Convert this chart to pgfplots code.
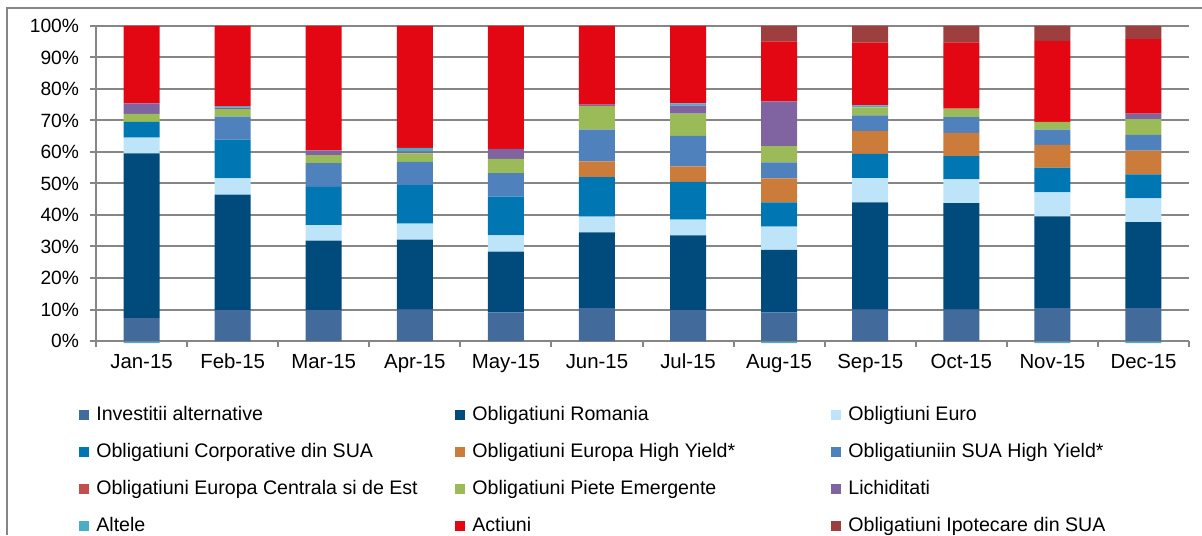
\documentclass[border=0pt]{standalone}
\usepackage{pgfplots}
\usepackage{pgfplotstable}
\pgfplotsset{compat=1.18}
\usepackage{fontspec}
\setmainfont{Liberation Sans}
\definecolor{cInv}{HTML}{426A9B}
\definecolor{cRom}{HTML}{004A7C}
\definecolor{cEur}{HTML}{BDE4F8}
\definecolor{cCorp}{HTML}{0077B3}
\definecolor{cEHY}{HTML}{CB7B3A}
\definecolor{cUHY}{HTML}{4F81BD}
\definecolor{cECE}{HTML}{C0504D}
\definecolor{cPE}{HTML}{9BBB59}
\definecolor{cLich}{HTML}{8064A2}
\definecolor{cAlt}{HTML}{4BACC6}
\definecolor{cAct}{HTML}{E30613}
\definecolor{cIpo}{HTML}{9E3F3F}
\definecolor{cGrid}{HTML}{868686}

\pgfplotstableread{
x  Inv  Rom  Eur  Corp EHY UHY  ECE PE  Lich Alt Act  Ipo
0  7.3  52.3 5.0  5.0  0   0    0   2.5 3.3  0   24.6 0
1  9.8  36.7 5.1  12.3 0   7.3  0   2.4 0.5  0.5 25.4 0
2  9.8  22.1 4.9  12.1 0   7.6  0   2.5 1.5  0   39.5 0
3  10.0 22.2 5.1  12.2 0   7.4  0   2.7 0.6  1.1 38.7 0
4  9.1  19.3 5.1  12.3 0   7.5  0   4.5 3.2  0   39.0 0
5  10.4 24.1 5.0  12.5 5.0 10.1 0   7.5 0.4  0   25.0 0
6  9.8  23.7 5.0  12.0 4.9 9.7  0   7.1 2.5  0.7 24.6 0
7  9.1  19.8 7.4  7.7  7.6 5.1  0   5.2 14.2 0   19.0 4.9
8  10.0 34.0 7.7  7.7  7.3 4.9  0   2.6 0    0.6 19.9 5.3
9  10.0 33.8 7.5  7.4  7.4 5.0  0   2.7 0    0   21.0 5.2
10 10.4 29.2 7.6  7.8  7.3 4.8  0   2.5 0    0   25.7 4.7
11 10.4 27.3 7.6  7.6  7.5 5.0  0   5.0 1.8  0   23.6 4.2
}\data

\pgfplotstableread{
x  AltNeg
0  -0.7
7  -0.7
10 -0.7
11 -0.7
}\neg

\newcommand{\lt}[1]{\makebox[179.5pt][l]{#1}}

\begin{document}
\begin{tikzpicture}
\useasboundingbox (0,0) rectangle (601pt,267.5pt);
\draw[cGrid, line width=1pt] (3.5pt,0) -- (3.5pt,263.5pt) -- (601pt,263.5pt);

% negative values (Altele) drawn below zero
\begin{axis}[
  at={(48pt,97pt)}, anchor=south west,
  scale only axis, width=546.5pt, height=157.5pt,
  xmin=-0.5, xmax=11.5, ymin=0, ymax=100,
  hide axis, clip=false,
  ybar, bar width=18pt,
]
\addplot[fill=cAlt, draw=none] table[x=x, y=AltNeg] {\neg};
\end{axis}

\begin{axis}[
  at={(48pt,97pt)}, anchor=south west,
  scale only axis, width=546.5pt, height=157.5pt,
  xmin=-0.5, xmax=11.5, ymin=0, ymax=100,
  ybar stacked, bar width=18pt,
  axis x line*=bottom, axis y line*=left,
  axis line style={cGrid, line width=1pt, -},
  tick style={cGrid, line width=1pt},
  tick align=outside,
  major tick length=3pt,
  xtick={-0.5,0.5,...,11.5}, xticklabels={},
  extra x ticks={0,1,...,11},
  extra x tick labels={Jan-15,Feb-15,Mar-15,Apr-15,May-15,Jun-15,Jul-15,Aug-15,Sep-15,Oct-15,Nov-15,Dec-15},
  extra x tick style={major tick length=0pt,
    xticklabel style={font=\fontsize{10.2pt}{12pt}\selectfont, text=black, yshift=-3pt}},
  ytick={0,10,...,100},
  yticklabels={0\%,10\%,20\%,30\%,40\%,50\%,60\%,70\%,80\%,90\%,100\%},
  ymajorgrids,
  grid style={cGrid, line width=1pt},
  /pgf/number format/assume math mode=true,
  tick label style={font=\fontsize{9.6pt}{11pt}\selectfont, text=black},
  yticklabel style={xshift=-2pt},
  legend columns=3,
  legend image code/.code={\fill[#1] (0pt,-2.5pt) rectangle (5pt,2.5pt);},
  legend style={
    draw=none, fill=none, inner sep=0pt,
    at={(rel axis cs:-0.0156,-0.412)}, anchor=west,
    font=\fontsize{9.8pt}{11pt}\selectfont,
    row sep=9.5pt,
    nodes={inner sep=0pt, text height=7pt, text depth=2pt},
    /tikz/every odd column/.append style={column sep=3.5pt},
  },
]
\addplot[fill=cInv,  draw=none] table[x=x, y=Inv]  {\data};
\addplot[fill=cRom,  draw=none] table[x=x, y=Rom]  {\data};
\addplot[fill=cEur,  draw=none] table[x=x, y=Eur]  {\data};
\addplot[fill=cCorp, draw=none] table[x=x, y=Corp] {\data};
\addplot[fill=cEHY,  draw=none] table[x=x, y=EHY]  {\data};
\addplot[fill=cUHY,  draw=none] table[x=x, y=UHY]  {\data};
\addplot[fill=cECE,  draw=none] table[x=x, y=ECE]  {\data};
\addplot[fill=cPE,   draw=none] table[x=x, y=PE]   {\data};
\addplot[fill=cLich, draw=none] table[x=x, y=Lich] {\data};
\addplot[fill=cAlt,  draw=none] table[x=x, y=Alt]  {\data};
\addplot[fill=cAct,  draw=none] table[x=x, y=Act]  {\data};
\addplot[fill=cIpo,  draw=none] table[x=x, y=Ipo]  {\data};
\addlegendentry{\lt{Investitii alternative}}
\addlegendentry{\lt{Obligatiuni Romania}}
\addlegendentry{\lt{Obligtiuni Euro}}
\addlegendentry{\lt{Obligatiuni Corporative din SUA}}
\addlegendentry{\lt{Obligatiuni Europa High Yield*}}
\addlegendentry{\lt{Obligatiuniin SUA High Yield*}}
\addlegendentry{\lt{Obligatiuni Europa Centrala si de Est}}
\addlegendentry{\lt{Obligatiuni Piete Emergente}}
\addlegendentry{\lt{Lichiditati}}
\addlegendentry{\lt{Altele}}
\addlegendentry{\lt{Actiuni}}
\addlegendentry{\lt{Obligatiuni Ipotecare din SUA}}
\end{axis}
\end{tikzpicture}
\end{document}
